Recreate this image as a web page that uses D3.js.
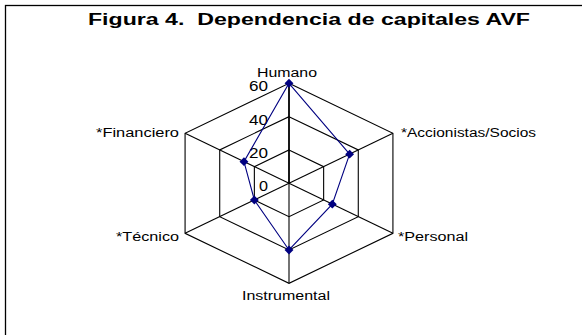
<!DOCTYPE html>
<html>
<head>
<meta charset="utf-8">
<script src="https://cdn.jsdelivr.net/npm/d3@7"></script>
<style>
  body { margin: 0; background: #fff; }
  text { font-family: Arial, "Liberation Sans", sans-serif; fill: #000; }
</style>
</head>
<body>
<div class="chart"></div>
<script>
// data
var categories = ["Humano", "*Accionistas/Socios", "*Personal", "Instrumental", "*Técnico", "*Financiero"];
var values = [60, 35, 25, 40, 20, 26];
var ticks = [0, 20, 40, 60];

var svgWidth = 582;
var svgHeight = 335;

var svg = d3.select(".chart")
  .append("svg")
  .attr("width", svgWidth)
  .attr("height", svgHeight);

// outer frame (runs off the right and bottom edge)
svg.append("rect")
  .attr("x", 5.5)
  .attr("y", 5.5)
  .attr("width", 620)
  .attr("height", 400)
  .attr("fill", "none")
  .attr("stroke", "#000")
  .attr("stroke-width", 1.3);

svg.append("text")
  .attr("x", 88)
  .attr("y", 25)
  .attr("textLength", 442)
  .attr("lengthAdjust", "spacingAndGlyphs")
  .style("font-size", "16px")
  .style("font-weight", "bold")
  .style("white-space", "pre")
  .text("Figura 4.  Dependencia de capitales AVF");

var cx = 289, cy = 183.3;
// picture is stretched horizontally
var stretch = 1.2;

var r = d3.scaleLinear()
  .domain([0, 60])
  .range([0, 100]);

var n = categories.length;
function angle(i) { return -Math.PI / 2 + i * 2 * Math.PI / n; }
function pt(i, v) {
  return [cx + Math.cos(angle(i)) * r(v) * stretch, cy + Math.sin(angle(i)) * r(v)];
}

var g = svg.append("g");

// rings
ticks.filter(t => t > 0).forEach(function (t) {
  g.append("path")
    .attr("d", d3.line()(d3.range(n).map(i => pt(i, t))) + "Z")
    .attr("fill", "none")
    .attr("stroke", "#000")
    .attr("stroke-width", 1.1);
});

// spokes
d3.range(n).forEach(function (i) {
  var p = pt(i, 60);
  g.append("line")
    .attr("x1", cx).attr("y1", cy)
    .attr("x2", p[0]).attr("y2", p[1])
    .attr("stroke", "#000")
    .attr("stroke-width", i === 0 ? 1.8 : 1.1);
});

// value axis labels
g.selectAll(".tick")
  .data(ticks)
  .enter()
  .append("text")
  .attr("x", cx - 21)
  .attr("y", d => cy - r(d) + 8)
  .attr("text-anchor", "end")
  .attr("textLength", d => d === 0 ? 9 : 19)
  .attr("lengthAdjust", "spacingAndGlyphs")
  .style("font-size", "14px")
  .text(d => d);

// series
var pts = values.map((v, i) => pt(i, v));
g.append("path")
  .attr("d", d3.line()(pts) + "Z")
  .attr("fill", "none")
  .attr("stroke", "#000080")
  .attr("stroke-width", 1.1);

g.selectAll(".marker")
  .data(pts)
  .enter()
  .append("path")
  .attr("transform", d => `translate(${d[0]},${d[1]})`)
  .attr("d", d3.symbol().type(d3.symbolDiamond2).size(50))
  .attr("fill", "#000080");

// category labels: x, anchor, baseline, width
var labelPos = [
  { x: 287, y: 77, anchor: "middle", w: 60 },
  { x: 401, y: 137, anchor: "start", w: 135 },
  { x: 398, y: 241, anchor: "start", w: 70 },
  { x: 286, y: 300, anchor: "middle", w: 88 },
  { x: 179, y: 241, anchor: "end", w: 63 },
  { x: 179, y: 137, anchor: "end", w: 83 }
];

g.selectAll(".cat")
  .data(categories)
  .enter()
  .append("text")
  .attr("x", (d, i) => labelPos[i].x)
  .attr("y", (d, i) => labelPos[i].y)
  .attr("text-anchor", (d, i) => labelPos[i].anchor)
  .attr("textLength", (d, i) => labelPos[i].w)
  .attr("lengthAdjust", "spacingAndGlyphs")
  .style("font-size", "12px")
  .text(d => d);
</script>
</body>
</html>
